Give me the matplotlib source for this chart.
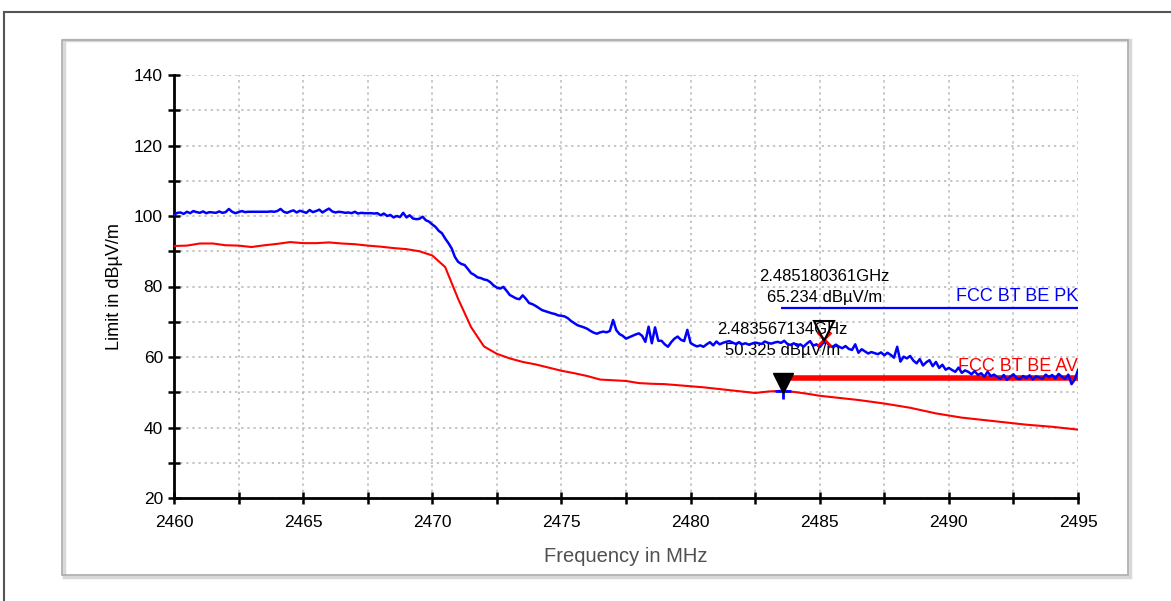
import matplotlib
matplotlib.use("Agg")
import matplotlib.pyplot as plt
import matplotlib.transforms as mtransforms
from matplotlib.patches import Rectangle
from matplotlib.lines import Line2D
from matplotlib.ticker import MultipleLocator
import numpy as np

plt.rcParams["font.family"] = ["Liberation Sans", "DejaVu Sans"]

# peak trace (blue), 0.125 MHz steps from 2460 to 2495 (one row per MHz)
pk_freq = np.linspace(2460, 2495, 281)
pk_level = [
    100.3, 100.9, 101.0, 100.6, 101.2, 100.8, 101.4, 101.1,
    100.9, 101.3, 100.8, 101.1, 101.0, 100.9, 101.3, 100.9,
    101.1, 102.0, 101.2, 100.8, 101.1, 101.4, 101.1, 101.2,
    101.2, 101.2, 101.2, 101.2, 101.2, 101.2, 101.3, 101.2,
    101.4, 102.0, 101.2, 100.9, 101.3, 101.6, 101.0, 101.5,
    101.2, 100.9, 101.7, 101.1, 101.4, 101.8, 101.0, 101.6,
    102.1, 101.3, 101.0, 101.2, 101.1, 100.9, 101.0, 100.8,
    101.2, 100.7, 100.9, 100.8, 100.8, 100.8, 100.7, 100.8,
    100.2, 100.7, 100.0, 100.3, 99.6, 100.0, 99.7, 100.9,
    99.6, 100.2, 99.3, 99.1, 99.2, 99.8, 98.8, 98.4,
    97.6, 96.9, 95.8, 95.1, 93.6, 92.3, 90.8, 88.4,
    87.0, 86.4, 86.1, 85.0, 83.8, 83.3, 82.6, 82.4,
    82.0, 81.8, 81.2, 80.3, 79.7, 79.4, 79.9, 78.8,
    77.6, 77.1, 76.6, 76.4, 77.5, 76.5, 75.3, 75.0,
    74.5, 73.9, 73.3, 73.0, 72.7, 72.4, 72.2, 71.8,
    71.7, 71.5, 71.0, 70.2, 69.6, 69.0, 68.7, 68.4,
    68.0, 67.4, 66.9, 66.6, 67.0, 67.2, 67.0, 67.4,
    70.5, 67.6, 66.5, 66.0, 65.2, 65.6, 66.0, 66.4,
    66.7, 66.0, 64.3, 68.6, 63.9, 68.4, 64.6, 64.6,
    63.6, 62.9, 64.2, 65.2, 65.8, 64.9, 64.5, 67.7,
    64.0, 63.4, 63.0, 63.3, 62.9, 63.6, 64.2, 63.3,
    64.4, 63.6, 64.0, 64.3, 64.5, 64.1, 63.7, 64.2,
    63.6, 63.9, 63.5, 63.8, 64.1, 63.9, 63.7, 64.4,
    64.0, 63.8, 64.1, 64.3, 64.0, 64.6, 63.7, 63.4,
    63.9, 63.2, 63.6, 62.9, 63.8, 64.5, 63.2, 63.6,
    62.8, 63.9, 64.4, 63.2, 62.9, 63.5, 62.9, 62.5,
    63.1, 62.3, 62.0, 63.6, 61.2, 62.2, 61.6, 61.0,
    61.4, 61.1, 60.8, 61.3, 60.5, 61.2, 60.6, 59.8,
    62.9, 58.7, 60.1, 59.6, 60.3, 59.0, 58.2, 59.4,
    57.6, 58.5, 59.1, 57.4, 58.6, 56.9, 57.8, 56.4,
    56.9, 56.3, 55.8, 57.0, 55.5, 56.2, 55.8, 55.1,
    56.0, 54.9, 55.4, 54.4, 55.8, 54.6, 55.0, 54.3,
    53.8, 54.9, 53.5, 54.4, 55.1, 54.0, 53.7, 54.6,
    54.0, 54.8, 53.6, 54.5, 54.2, 53.8, 55.0, 54.3,
    54.9, 53.9, 55.2, 54.4, 53.8, 55.0, 52.3, 53.6,
    56.3,
]

# average trace (red), 0.5 MHz steps
av_freq = np.linspace(2460, 2495, 71)
av_level = [
    91.5, 91.6, 92.2, 92.2, 91.7, 91.6, 91.2, 91.7, 92.1, 92.6,
    92.3, 92.3, 92.5, 92.2, 92.0, 91.6, 91.3, 90.9, 90.6, 90.0,
    88.8, 85.5, 76.5, 68.5, 63.0, 60.9, 59.6, 58.6, 57.9, 57.0,
    56.1, 55.4, 54.6, 53.6, 53.4, 53.2, 52.6, 52.4, 52.3, 52.0,
    51.7, 51.4, 51.0, 50.6, 50.2, 49.8, 50.2, 50.4, 50.1, 49.6,
    49.0, 48.6, 48.2, 47.8, 47.3, 46.8, 46.2, 45.6, 44.8, 44.0,
    43.4, 42.8, 42.4, 42.0, 41.6, 41.2, 40.8, 40.5, 40.2, 39.8,
    39.4,
]

# limit lines
limit_names = ["FCC BT BE PK", "FCC BT BE AV"]
limit_start = [2483.5, 2483.5]
limit_stop = [2495.0, 2495.0]
limit_level = [74.0, 54.0]

# markers
marker_freq = [2483.567134, 2485.180361]
marker_level = [50.325, 65.234]

fig = plt.figure(figsize=(11.71, 6.01), dpi=100)

# outer frame and inner panel
fig.add_artist(Line2D([4 / 1171, 1], [1 - 12 / 601, 1 - 12 / 601],
                      transform=fig.transFigure, color="#555555", lw=1.5))
fig.add_artist(Line2D([4 / 1171, 4 / 1171], [0, 1 - 12 / 601],
                      transform=fig.transFigure, color="#555555", lw=1.5))
fig.add_artist(Rectangle((64 / 1171, 1 - 577 / 601), 1066 / 1171, 537 / 601,
                         transform=fig.transFigure, fill=False,
                         edgecolor="#d8d8d8", lw=2.5))
fig.add_artist(Rectangle((62 / 1171, 1 - 575 / 601), 1066 / 1171, 535 / 601,
                         transform=fig.transFigure, fill=False,
                         edgecolor="#aaaaaa", lw=1.2))

ax = fig.add_axes([174 / 1171, 1 - 498 / 601, 904 / 1171, 423 / 601])

colors = ["#0000ff", "#ff0000"]

# limits first so the traces draw over them
for name, x0, x1, lvl, c, lw in zip(limit_names, limit_start, limit_stop,
                                    limit_level, colors, [1.6, 4.0]):
    ax.plot([x0, x1], [lvl, lvl], color=c, lw=lw, solid_capstyle="butt", zorder=2)
    ax.text(x1, lvl, name, color=c, fontsize=13, ha="right", va="bottom",
            zorder=2, transform=mtransforms.offset_copy(ax.transData, fig, y=3, units="dots"))

ax.plot(av_freq, av_level, color=colors[1], lw=1.5, zorder=3)
ax.plot(pk_freq, pk_level, color=colors[0], lw=1.8, zorder=4)

# marker annotations
for f, lvl in zip(marker_freq, marker_level):
    t1 = mtransforms.offset_copy(ax.transData, fig, y=62, units="dots")
    t2 = mtransforms.offset_copy(ax.transData, fig, y=41, units="dots")
    ax.text(f, lvl, f"{f / 1000:.9f}GHz", fontsize=12, ha="center", va="center",
            transform=t1, zorder=3)
    ax.text(f, lvl, f"{lvl:.3f} dBµV/m", fontsize=12, ha="center", va="center",
            transform=t2, zorder=3)

tri = mtransforms.offset_copy(ax.transData, fig, y=8, units="dots")
ax.plot(marker_freq[0], marker_level[0], marker="+", color=colors[0],
        ms=11, mew=2, zorder=5)
ax.plot(marker_freq[0], marker_level[0], marker="v", color="black",
        ms=14, transform=tri, zorder=6)
ax.plot(marker_freq[1], marker_level[1], marker="x", color=colors[1],
        ms=10, mew=1.8, zorder=5)
ax.plot(marker_freq[1], marker_level[1], marker="v", markerfacecolor="none",
        markeredgecolor="black", mew=1.5, ms=14, transform=tri, zorder=6)

ax.set_xlim(2460, 2495)
ax.set_ylim(20, 140)
ax.xaxis.set_major_locator(MultipleLocator(5))
ax.xaxis.set_minor_locator(MultipleLocator(2.5))
ax.yaxis.set_major_locator(MultipleLocator(20))
ax.yaxis.set_minor_locator(MultipleLocator(10))
ax.grid(True, which="both", color="#b5b5b5", linestyle=(0, (1.5, 2.5)), lw=1.1, zorder=0)

for side in ["top", "right"]:
    ax.spines[side].set_visible(False)
for side in ["left", "bottom"]:
    ax.spines[side].set_linewidth(2)
ax.tick_params(which="both", direction="inout", length=9, width=1.8, labelsize=12.5)
ax.tick_params(axis="x", which="both", pad=8)

ax.set_ylabel("Limit in dBµV/m", fontsize=13, labelpad=8)
ax.set_xlabel("Frequency in MHz", fontsize=14.5, color="#505050", labelpad=12)

fig.savefig("out.png", dpi=100)
